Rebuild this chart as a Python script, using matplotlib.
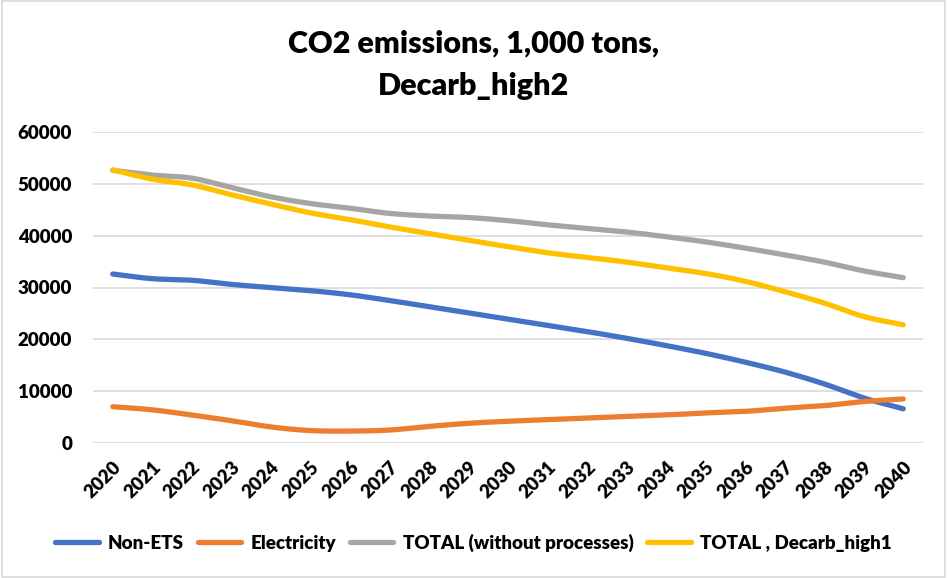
import numpy as np
import matplotlib
matplotlib.use("Agg")
import matplotlib.pyplot as plt
from matplotlib.patches import Rectangle

years = list(range(2020, 2041))
non_ets = [32600, 31700, 31400, 30600, 30000, 29400, 28600, 27500, 26300, 25100, 23900,
           22700, 21500, 20200, 18800, 17300, 15600, 13700, 11400, 8700, 6600]
electricity = [7000, 6400, 5400, 4300, 3100, 2400, 2300, 2500, 3200, 3800, 4200,
               4500, 4800, 5100, 5400, 5800, 6100, 6700, 7200, 8000, 8500]
total_wo = [52600, 51700, 51100, 49300, 47500, 46200, 45300, 44300, 43800, 43500, 42900,
            42100, 41400, 40700, 39800, 38800, 37600, 36300, 34900, 33200, 31900]
total_dh1 = [52700, 50900, 49800, 47900, 46100, 44400, 43100, 41700, 40400, 39100, 37900,
             36700, 35800, 34900, 33800, 32700, 31200, 29200, 27000, 24400, 22800]

series_names = ["Non-ETS", "Electricity", "TOTAL (without processes)", "TOTAL , Decarb_high1"]
series_vals = [non_ets, electricity, total_wo, total_dh1]
colors = ["#4472C4", "#ED7D31", "#A5A5A5", "#FFC000"]
title = "CO2 emissions, 1,000 tons,\nDecarb_high2"


def smooth(x, y, n=20):
    x = np.asarray(x, float)
    y = np.asarray(y, float)
    px = np.concatenate([[2 * x[0] - x[1]], x, [2 * x[-1] - x[-2]]])
    py = np.concatenate([[2 * y[0] - y[1]], y, [2 * y[-1] - y[-2]]])
    xs, ys = [], []
    t = np.linspace(0, 1, n, endpoint=False)
    for i in range(1, len(px) - 2):
        p0, p1, p2, p3 = py[i - 1], py[i], py[i + 1], py[i + 2]
        q0, q1, q2, q3 = px[i - 1], px[i], px[i + 1], px[i + 2]
        for arr, a0, a1, a2, a3 in ((ys, p0, p1, p2, p3), (xs, q0, q1, q2, q3)):
            arr.extend(0.5 * ((2 * a1) + (-a0 + a2) * t + (2 * a0 - 5 * a1 + 4 * a2 - a3) * t ** 2
                              + (-a0 + 3 * a1 - 3 * a2 + a3) * t ** 3))
    xs.append(x[-1])
    ys.append(y[-1])
    return np.array(xs), np.array(ys)


plt.rcParams['font.family'] = ['Lato', 'DejaVu Sans']
W = 'heavy'
fig = plt.figure(figsize=(9.47, 5.78), dpi=100)
ax = fig.add_axes([93 / 947, 1 - 443 / 578, (923 - 93) / 947, (443 - 132) / 578])

for name, vals, c in zip(series_names, series_vals, colors):
    sx, sy = smooth(years, vals)
    ax.plot(sx, sy, color=c, lw=3.8, solid_capstyle='round', solid_joinstyle='round', label=name)

ax.set_xlim(2019.5, 2040.5)
ax.set_ylim(0, 60000)
ax.set_yticks(range(0, 60001, 10000))
ax.set_yticklabels([str(v) for v in range(0, 60001, 10000)], fontsize=13.5, fontweight=W)
ax.set_xticks(years)
ax.set_xticklabels([str(y) for y in years], rotation=45, ha='right', rotation_mode='anchor',
                   fontsize=13.5, fontweight=W)
ax.tick_params(axis='y', length=0, pad=15)
ax.tick_params(axis='x', length=0, pad=11)
ax.grid(axis='y', color='#D9D9D9', lw=1.2)
ax.set_axisbelow(True)
for s in ax.spines.values():
    s.set_visible(False)

fig.text(0.5, 1 - 65 / 578, title, ha='center', va='center', fontsize=22, fontweight=W,
         linespacing=1.65)

fig.legend(loc='center', bbox_to_anchor=(0.5, 1 - 543 / 578), ncol=4, frameon=False,
           prop={'size': 13.5, 'weight': W}, handlelength=2.3, handletextpad=0.5,
           columnspacing=0.75)

fig.patches.append(Rectangle((0.002, 0.002), 0.996, 0.996, transform=fig.transFigure,
                             fill=False, edgecolor='#D9D9D9', lw=1.2))
fig.savefig("out.png", dpi=100)
